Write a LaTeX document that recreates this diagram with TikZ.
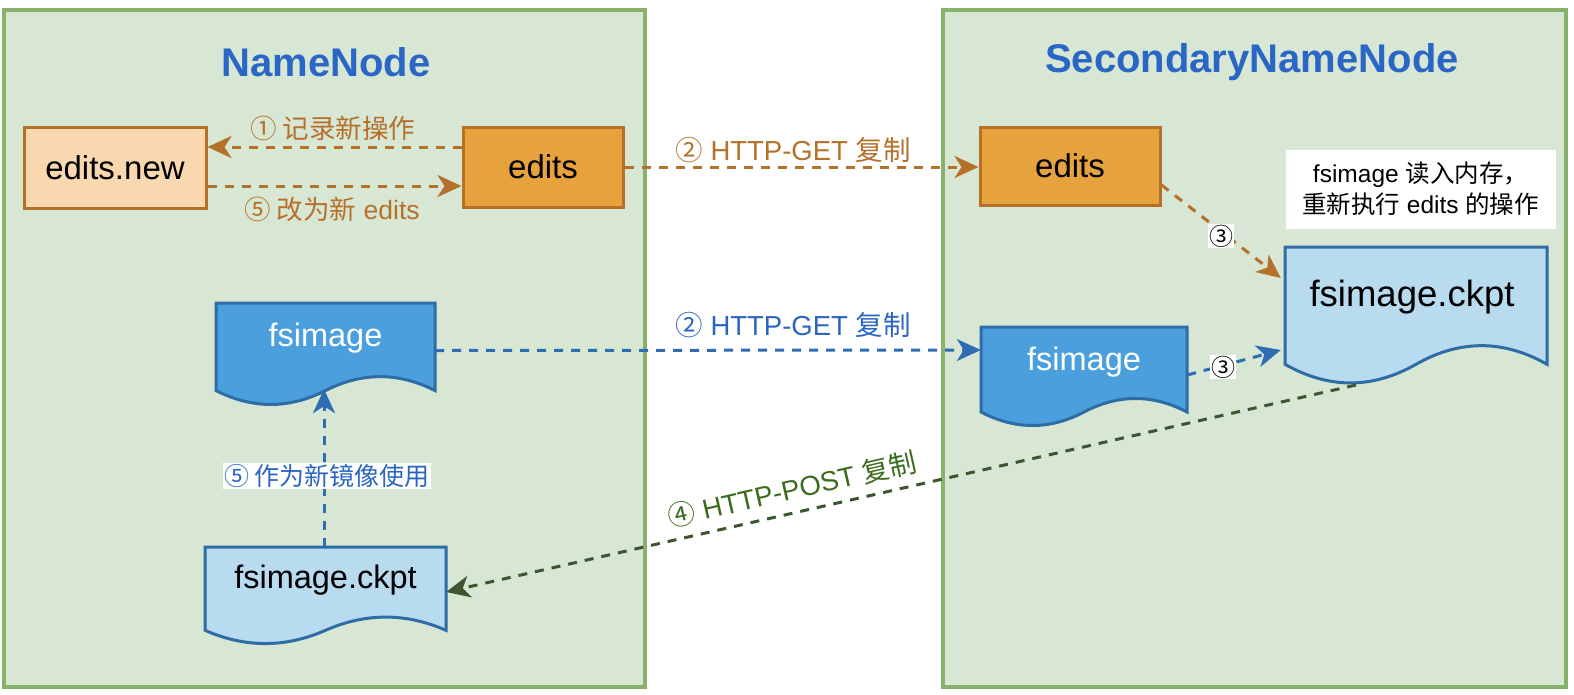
\documentclass[tikz,border=0pt]{standalone}
\usepackage{fontspec}
\setmainfont{Liberation Sans}
\newfontfamily\cjk{Noto Sans CJK SC}
\usetikzlibrary{arrows.meta,calc}
\definecolor{panelfill}{HTML}{D7E7D4}
\definecolor{panelline}{HTML}{86B26C}
\definecolor{titleblue}{HTML}{2A66C6}
\definecolor{lorange}{HTML}{F9D8B0}
\definecolor{orangefill}{HTML}{E6A23C}
\definecolor{orangeline}{HTML}{B5702A}
\definecolor{docblue}{HTML}{4A9FDC}
\definecolor{docline}{HTML}{2E6CA6}
\definecolor{lblue}{HTML}{B8DBF0}
\definecolor{arrblue}{HTML}{2E6DB4}
\definecolor{txtblue}{HTML}{2A66C0}
\definecolor{arrgreen}{HTML}{3D5630}
\definecolor{txtgreen}{HTML}{3C6B1E}
\newcommand\fs[1]{\fontsize{#1}{#1}\selectfont}
\newcommand\docshape[5]{% style, x1, top, x2, h
  \path[#1] (#2,#3) -- (#4,#3) -- (#4,{#3+#5-0.15*#5})
    .. controls ({#2+5*(#4-#2)/6},{#3+#5-0.15*#5-0.18*#5}) and ({#2+4*(#4-#2)/6},{#3+#5-0.15*#5-0.18*#5}) .. ({#2+(#4-#2)/2},{#3+#5-0.15*#5})
    .. controls ({#2+(#4-#2)/3},{#3+#5-0.15*#5+0.18*#5}) and ({#2+(#4-#2)/6},{#3+#5-0.15*#5+0.18*#5}) .. (#2,{#3+#5-0.15*#5})
    -- cycle;}
\tikzset{
  panel/.style={draw=panelline, fill=panelfill, line width=3.5pt},
  title/.style={font=\bfseries\fs{40}, text=titleblue},
  orbox/.style={draw=orangeline, line width=3pt, font=\fs{33}, inner sep=0pt},
  dashline/.style={line width=3pt, dash pattern=on 9pt off 8pt},
  tip/.style={-{Stealth[length=24pt,width=22pt,inset=7pt]}},
  oarr/.style={dashline, tip, draw=orangeline},
  barr/.style={dashline, tip, draw=arrblue},
  garr/.style={dashline, tip, draw=arrgreen},
  lbl/.style={font=\fs{26.5}, inner sep=1pt},
  docbox/.style={inner sep=0pt},
  doctext/.style={font=\fs{32.5}, inner sep=0pt},
}
\begin{document}
\begin{tikzpicture}[x=1pt,y=-1pt]
\useasboundingbox (0,0) rectangle (1574,694);
\fill[white] (0,0) rectangle (1574,694);
% panels
\draw[panel] (4,10) rectangle (645,687);
\draw[panel] (943,10) rectangle (1566,687);
\node[title] (tL) at (326,62) {NameNode};
\node[title] (tR) at (1252,62) {SecondaryNameNode};
% boxes
\node[orbox, fill=lorange, minimum width=182, minimum height=81] (enew) at (115,167.5) {edits.new};
\node[orbox, fill=orangefill, minimum width=160, minimum height=80] (eL) at (543,167) {edits};
\node[orbox, fill=orangefill, minimum width=180, minimum height=78] (eR) at (1070,166) {edits};
% documents
\docshape{draw=docline, fill=docblue, line width=3pt}{216}{303}{435}{103}
\node[docbox, minimum width=219, minimum height=103] (fsL) at (325.5,354.5) {};
\node[doctext, text=white] (fsLt) at (325.5,338) {fsimage};
\docshape{draw=docline, fill=docblue, line width=3pt}{981}{327}{1187}{100}
\node[docbox, minimum width=206, minimum height=100] (fsR) at (1084,377) {};
\node[doctext, text=white] (fsRt) at (1084,362) {fsimage};
\docshape{draw=docline, fill=lblue, line width=3pt}{1285}{247}{1547}{138}
\node[docbox, minimum width=262, minimum height=138] (ckR) at (1416,316) {};
\node[doctext, font=\fs{36.5}] (ckRt) at (1412,297) {fsimage.ckpt};
\docshape{draw=docline, fill=lblue, line width=3pt}{205}{547}{446}{98}
\node[docbox, minimum width=241, minimum height=98] (ckL) at (325.5,596) {};
\node[doctext] (ckLt) at (325.5,580) {fsimage.ckpt};
% note
\node[fill=white, minimum width=270, minimum height=79, align=center, font=\fontsize{24.5}{31}\selectfont, inner sep=0pt] (note) at (1420.5,189)
  {fsimage {\cjk 读入内存，}\\{\cjk 重新执行} edits {\cjk 的操作}};
% connectors
\draw[oarr] ($(eL.west)+(0,-20)$) -- ($(enew.east)+(0,-20.5)$);
\node[lbl, text=orangeline] (l1) at (333,128) {\cjk ① 记录新操作};
\draw[oarr] ($(enew.east)+(0,18.5)$) -- ($(eL.west)+(0,19)$);
\node[lbl, text=orangeline] (l5a) at (332,209) {{\cjk ⑤ 改为新} edits};
\draw[oarr] (eL.east) -- ($(eR.west)+(0,1)$);
\node[lbl, text=orangeline, font=\fs{27.5}] (l2a) at (793,150) {{\cjk ②} HTTP-GET {\cjk 复制}};
\coordinate (c3a) at ($(ckR.west)+(-4,-38)$);
\draw[oarr] ($(eR.east)+(0,19)$) -- (c3a);
\node[lbl, fill=white, font=\fs{24}] (l3a) at (1221,236) {\cjk ③};
\draw[barr] ($(fsL.east)+(0,-4)$) -- ($(fsR.west)+(0,-27)$);
\node[lbl, text=txtblue, font=\fs{27.5}] (l2b) at (793,325) {{\cjk ②} HTTP-GET {\cjk 复制}};
\coordinate (c3b) at ($(ckR.west)+(-4,34)$);
\draw[barr] ($(fsR.east)+(0,-2)$) -- (c3b);
\node[lbl, fill=white, font=\fs{24}] (l3b) at (1223,367) {\cjk ③};
\coordinate (ckRb) at (1356,385);
\draw[garr] (ckRb) -- ($(ckL.east)+(0,-4)$);
\node[lbl, text=txtgreen, font=\fs{27.5}, rotate=12.75] (l4) at (792,489) {{\cjk ④} HTTP-POST {\cjk 复制}};
\coordinate (fsLb) at ($(fsL.south)+(-1.5,-17)$);
\draw[barr] ($(ckL.north)+(-1.5,0)$) -- (fsLb);
\node[lbl, fill=white, text=txtblue, font=\fs{25}] (l5b) at (327,476) {\cjk ⑤ 作为新镜像使用};
\end{tikzpicture}
\end{document}
